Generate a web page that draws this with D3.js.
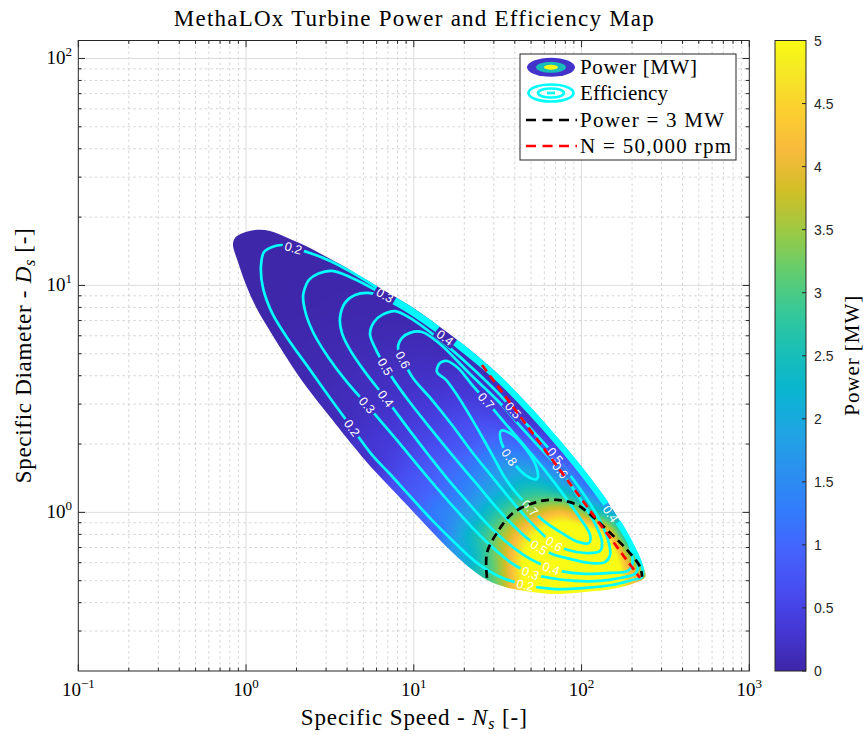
<!DOCTYPE html>
<html>
<head>
<meta charset="utf-8">
<title>MethaLOx Turbine Power and Efficiency Map</title>
<script src="https://cdn.jsdelivr.net/npm/d3@7/dist/d3.min.js"></script>
<style>
  html, body { margin: 0; padding: 0; background: #fff; }
  svg { display: block; }
</style>
</head>
<body>
<svg id="chart" width="866" height="735" xmlns="http://www.w3.org/2000/svg"></svg>
<script>
// ---------------- data ----------------
const nsLimits = [0.1, 1000];
const dsLimits = [0.2, 120];
const nsDecades = [-1, 0, 1, 2, 3];
const dsDecades = [0, 1, 2];
const powerLimits = [0, 5];
const powerTicks = [0, 0.5, 1, 1.5, 2, 2.5, 3, 3.5, 4, 4.5, 5];
const effLevels = [0.2, 0.3, 0.4, 0.5, 0.6, 0.7, 0.8];

// Efficiency iso-lines, points as [log10 Ns, log10 Ds]
const eff02 = [[0.107,1.147],[0.155,1.169],[0.214,1.178],[0.280,1.165],[0.381,1.143],[0.501,1.108],[0.620,1.062],[0.799,0.982],[0.977,0.903],[1.156,0.810],[1.335,0.709],[1.514,0.594],[1.693,0.458],[1.872,0.308],[2.051,0.145],[2.200,-0.009],[2.307,-0.146],[2.361,-0.241],[2.361,-0.285],[2.301,-0.298],[2.182,-0.320],[2.021,-0.333],[1.842,-0.338],[1.663,-0.320],[1.502,-0.280],[1.371,-0.219],[1.252,-0.139],[1.109,-0.034],[0.977,0.072],[0.858,0.169],[0.751,0.253],[0.632,0.372],[0.501,0.504],[0.369,0.641],[0.250,0.764],[0.155,0.879],[0.101,0.989],[0.089,1.086]];
const eff03 = [[0.351,0.989],[0.375,1.024],[0.429,1.051],[0.512,1.064],[0.632,1.033],[0.799,0.969],[0.977,0.891],[1.156,0.798],[1.335,0.697],[1.514,0.583],[1.693,0.446],[1.872,0.296],[2.051,0.132],[2.200,-0.023],[2.307,-0.159],[2.337,-0.236],[2.319,-0.271],[2.230,-0.289],[2.110,-0.302],[1.961,-0.302],[1.812,-0.289],[1.693,-0.267],[1.574,-0.219],[1.454,-0.144],[1.335,-0.056],[1.216,0.041],[1.067,0.169],[0.888,0.328],[0.721,0.473],[0.596,0.579],[0.489,0.685],[0.405,0.786],[0.357,0.874],[0.340,0.954]];
const eff04 = [[0.560,0.857],[0.590,0.923],[0.650,0.958],[0.727,0.967],[0.799,0.954],[0.888,0.918],[0.977,0.879],[1.156,0.787],[1.335,0.685],[1.514,0.571],[1.693,0.434],[1.872,0.284],[2.051,0.119],[2.200,-0.036],[2.289,-0.148],[2.301,-0.232],[2.277,-0.258],[2.170,-0.267],[2.021,-0.271],[1.872,-0.258],[1.782,-0.236],[1.693,-0.205],[1.574,-0.144],[1.454,-0.064],[1.335,0.033],[1.216,0.134],[1.097,0.244],[0.977,0.359],[0.840,0.495],[0.709,0.619],[0.620,0.716],[0.572,0.790]];
const eff05 = [[0.739,0.786],[0.763,0.839],[0.811,0.870],[0.888,0.887],[0.977,0.857],[1.156,0.760],[1.335,0.645],[1.514,0.517],[1.592,0.451],[1.693,0.372],[1.848,0.244],[1.991,0.103],[2.098,-0.020],[2.158,-0.122],[2.170,-0.188],[2.140,-0.219],[2.051,-0.223],[1.932,-0.205],[1.824,-0.183],[1.735,-0.148],[1.621,-0.078],[1.496,0.019],[1.365,0.134],[1.228,0.253],[1.097,0.372],[0.966,0.495],[0.888,0.575],[0.828,0.645],[0.775,0.716]];
const eff06 = [[0.906,0.724],[0.930,0.769],[0.977,0.791],[1.049,0.795],[1.156,0.742],[1.335,0.610],[1.514,0.482],[1.633,0.381],[1.753,0.284],[1.872,0.187],[1.979,0.072],[2.075,-0.042],[2.122,-0.130],[2.110,-0.170],[2.021,-0.179],[1.919,-0.166],[1.830,-0.135],[1.723,-0.064],[1.604,0.033],[1.472,0.152],[1.347,0.266],[1.228,0.385],[1.109,0.495],[0.995,0.592],[0.942,0.663]];
const eff07 = [[1.138,0.619],[1.156,0.658],[1.198,0.667],[1.264,0.636],[1.347,0.562],[1.437,0.487],[1.532,0.403],[1.645,0.306],[1.770,0.196],[1.889,0.081],[1.991,-0.025],[2.051,-0.100],[2.045,-0.135],[1.979,-0.130],[1.872,-0.086],[1.782,-0.042],[1.693,0.019],[1.615,0.081],[1.544,0.151],[1.484,0.231],[1.418,0.319],[1.335,0.425],[1.258,0.517],[1.192,0.584]];
const eff08 = [[1.734,0.147],[1.733,0.195],[1.670,0.277],[1.582,0.345],[1.520,0.359],[1.521,0.311],[1.584,0.229],[1.672,0.161]];
const effContours = [eff02, eff03, eff04, eff05, eff06, eff07, eff08];

// Inline contour labels: [level, log10 Ns, log10 Ds]
const effLabels = [
  [0.2,0.280,1.165],[0.3,0.828,0.954],[0.4,1.174,0.760],[0.6,0.936,0.672],[0.5,0.840,0.645],
  [0.4,0.840,0.504],[0.3,0.721,0.473],[0.2,0.632,0.372],[0.7,1.437,0.495],[0.5,1.592,0.447],
  [0.8,1.562,0.240],[0.5,1.848,0.253],[0.6,1.872,0.187],[0.7,1.693,0.019],[0.6,1.830,-0.143],
  [0.5,1.735,-0.166],[0.4,1.812,-0.254],[0.3,1.693,-0.267],[0.2,1.663,-0.320],[0.4,2.140,-0.025]
];

// Edge of the feasible design space, [log10 Ns, log10 Ds]
const mapBoundary = [[-0.078,1.183],[-0.060,1.214],[-0.018,1.231],[0.053,1.244],[0.143,1.240],[0.262,1.205],[0.381,1.165],[0.501,1.117],[0.620,1.068],[0.799,0.989],[0.977,0.910],[1.156,0.817],[1.335,0.716],[1.514,0.601],[1.693,0.465],[1.872,0.315],[2.051,0.152],[2.200,-0.003],[2.307,-0.139],[2.367,-0.236],[2.379,-0.285],[2.301,-0.316],[2.182,-0.338],[2.021,-0.351],[1.842,-0.360],[1.663,-0.346],[1.544,-0.329],[1.437,-0.298],[1.335,-0.245],[1.234,-0.179],[1.138,-0.108],[1.037,-0.029],[0.948,0.041],[0.840,0.125],[0.739,0.204],[0.638,0.293],[0.501,0.420],[0.411,0.504],[0.322,0.592],[0.220,0.707],[0.131,0.813],[0.059,0.905],[0.000,1.002],[-0.048,1.103]];

// Power = 3 MW iso-line, [log10 Ns, log10 Ds]
const power3MW = [[1.436,-0.289],[1.436,-0.179],[1.496,-0.090],[1.591,-0.003],[1.734,0.046],[1.854,0.055],[1.973,0.033],[2.068,-0.020],[2.170,-0.090],[2.271,-0.165],[2.349,-0.240],[2.361,-0.284]];

// Constant shaft speed line N = 50,000 rpm
const speedLineNs = [25.5, 223];
const speedLineDs = [4.46, 0.514];

// Turbine power [MW] sampled on a log10 Ns / log10 Ds grid (rows follow gridLgDs)
const gridLgNs = [-0.1, 0.1, 0.3, 0.5, 0.7, 0.9, 1.1, 1.3, 1.5, 1.7, 1.9, 2.1, 2.3, 2.5];
const gridLgDs = [-0.4, -0.3, -0.2, -0.1, 0.0, 0.1, 0.2, 0.3, 0.4, 0.5, 0.6, 0.7, 0.8, 0.9, 1.0, 1.1, 1.2, 1.3];
const powerMW = [
  [0,0,0,0,0,0.3,1.0,2.0,3.3,4.8,5.2,5.2,4.0,3.0],
  [0,0,0,0,0,0.5,1.2,2.2,3.3,5.4,6.2,6.4,4.3,3.0],
  [0,0,0,0,0.3,0.8,1.4,2.0,3.4,5.4,6.8,7.0,3.4,2.5],
  [0,0,0,0.1,0.4,0.7,0.9,2.1,3.3,4.8,6.0,5.3,2.0,1.5],
  [0,0,0,0.1,0.3,0.54,1.2,1.7,2.7,3.6,4.1,2.6,1.5,1.0],
  [0,0,0,0.1,0.3,0.68,0.95,1.36,1.98,2.6,2.2,1.0,0.8,0.6],
  [0,0,0.05,0.1,0.2,0.54,0.82,1.14,1.63,1.74,1.08,0.5,0.4,0.3],
  [0,0,0.05,0.1,0.27,0.41,0.61,0.79,1.09,0.92,0.27,0.2,0.2,0.2],
  [0,0,0.05,0.09,0.21,0.33,0.45,0.62,0.6,0.3,0.1,0.1,0.1,0.1],
  [0,0,0.05,0.11,0.16,0.24,0.32,0.39,0.32,0.1,0.1,0.1,0.1,0.1],
  [0,0.02,0.05,0.085,0.14,0.19,0.22,0.24,0.1,0.1,0.1,0.1,0.1,0.1],
  [0,0.02,0.043,0.065,0.1,0.13,0.14,0.09,0.05,0.05,0.05,0.05,0.05,0.05],
  [0.01,0.014,0.034,0.048,0.06,0.075,0.07,0.04,0.03,0.03,0.03,0.03,0.03,0.03],
  [0.01,0.01,0.02,0.03,0.04,0.04,0.03,0.02,0.02,0.02,0.02,0.02,0.02,0.02],
  [0.01,0.01,0.015,0.02,0.02,0.02,0.02,0.01,0.01,0.01,0.01,0.01,0.01,0.01],
  [0.01,0.01,0.01,0.01,0.01,0.01,0.01,0.01,0.01,0.01,0.01,0.01,0.01,0.01],
  [0.01,0.01,0.01,0.01,0.01,0.01,0.01,0.01,0.01,0.01,0.01,0.01,0.01,0.01],
  [0.01,0.01,0.01,0.01,0.01,0.01,0.01,0.01,0.01,0.01,0.01,0.01,0.01,0.01]
];

const legendItems = ["Power [MW]", "Efficiency", "Power = 3 MW", "N = 50,000 rpm"];

// ---------------- layout ----------------
const W = 866, H = 735;
const M = { left: 78.3, right: 749.3, top: 40.5, bottom: 671 };
const CB = { x: 775, w: 31 };
const SERIF = "'Liberation Serif', 'Times New Roman', Times, serif";
const SANS = "'Liberation Sans', Arial, Helvetica, sans-serif";
const svg = d3.select('#chart');
const defs = svg.append('defs');

const x = d3.scaleLog().domain(nsLimits).range([M.left, M.right]);
const y = d3.scaleLog().domain(dsLimits).range([M.bottom, M.top]);
const pt = d => [x(10 ** d[0]), y(10 ** d[1])];

// parula colour map
const parulaRGB = [[62,38,168],[69,55,213],[72,77,240],[69,99,253],[50,124,252],[43,145,239],[32,165,227],[8,181,208],[25,191,182],[55,200,151],[100,205,111],[157,201,67],[209,191,39],[248,186,61],[252,207,48],[245,233,36],[249,251,21]];
const parulaPos = [0,4,8,12,16,20,24,28,32,36,40,44,48,52,56,60,63].map(i => i / 63);
const parula = d3.scaleLinear().domain(parulaPos).range(parulaRGB.map(c => `rgb(${c})`))
  .interpolate(d3.interpolateRgb).clamp(true);
const powerColor = d3.scaleLinear().domain(powerLimits).range([0, 1]).clamp(true);

// ---------------- grid ----------------
const decadeMinors = (lo, hi) => d3.range(lo, hi).flatMap(e => d3.range(2, 10).map(m => m * 10 ** e));
const nsMinor = decadeMinors(-1, 3);
const dsMinor = decadeMinors(-1, 3).filter(v => v > dsLimits[0] * 1.0001 && v < dsLimits[1]);
const nsMajor = nsDecades.map(e => 10 ** e);
const dsMajor = dsDecades.map(e => 10 ** e);

const grid = svg.append('g');
grid.selectAll('.gx').data(nsMinor).join('line')
  .attr('x1', d => x(d)).attr('x2', d => x(d)).attr('y1', M.top).attr('y2', M.bottom)
  .attr('stroke', '#c9c9c9').attr('stroke-width', 0.8).attr('stroke-dasharray', '2.5,3');
grid.selectAll('.gy').data(dsMinor).join('line')
  .attr('y1', d => y(d)).attr('y2', d => y(d)).attr('x1', M.left).attr('x2', M.right)
  .attr('stroke', '#c9c9c9').attr('stroke-width', 0.8).attr('stroke-dasharray', '2.5,3');
grid.selectAll('.gX').data(nsMajor.slice(1, -1)).join('line')
  .attr('x1', d => x(d)).attr('x2', d => x(d)).attr('y1', M.top).attr('y2', M.bottom)
  .attr('stroke', '#dcdcdc').attr('stroke-width', 1);
grid.selectAll('.gY').data(dsMajor).join('line')
  .attr('y1', d => y(d)).attr('y2', d => y(d)).attr('x1', M.left).attr('x2', M.right)
  .attr('stroke', '#dcdcdc').attr('stroke-width', 1);

// ---------------- power surface ----------------
const lutN = 512;
const lut = d3.range(lutN).map(i => d3.rgb(parula(i / (lutN - 1))));
function cr(p0, p1, p2, p3, t) {
  return 0.5 * (2 * p1 + (-p0 + p2) * t + (2 * p0 - 5 * p1 + 4 * p2 - p3) * t * t + (-p0 + 3 * p1 - 3 * p2 + p3) * t * t * t);
}
const nu = gridLgNs.length, nv = gridLgDs.length;
const du = gridLgNs[1] - gridLgNs[0], dv = gridLgDs[1] - gridLgDs[0];
const P = (r, c) => powerMW[Math.max(0, Math.min(nv - 1, r))][Math.max(0, Math.min(nu - 1, c))];
function samplePower(u, v) {
  const fu = (u - gridLgNs[0]) / du, fv = (v - gridLgDs[0]) / dv;
  const c = Math.floor(fu), r = Math.floor(fv);
  const tu = fu - c, tv = fv - r;
  const rows = [-1, 0, 1, 2].map(k => cr(P(r + k, c - 1), P(r + k, c), P(r + k, c + 1), P(r + k, c + 2), tu));
  return Math.max(0, cr(rows[0], rows[1], rows[2], rows[3], tv));
}
const pw = Math.round(M.right - M.left), ph = Math.round(M.bottom - M.top);
const cvs = document.createElement('canvas');
cvs.width = pw; cvs.height = ph;
const ctx = cvs.getContext('2d');
const img = ctx.createImageData(pw, ph);
for (let j = 0; j < ph; j++) {
  const v = Math.log10(y.invert(M.top + j + 0.5));
  for (let i = 0; i < pw; i++) {
    const u = Math.log10(x.invert(M.left + i + 0.5));
    const k = Math.round(powerColor(samplePower(u, v)) * (lutN - 1));
    const c = lut[k], o = (j * pw + i) * 4;
    img.data[o] = c.r; img.data[o + 1] = c.g; img.data[o + 2] = c.b; img.data[o + 3] = 255;
  }
}
ctx.putImageData(img, 0, 0);

const closedCurve = d3.line().curve(d3.curveCatmullRomClosed.alpha(0.5));
const openCurve = d3.line().curve(d3.curveCatmullRom.alpha(0.5));
defs.append('clipPath').attr('id', 'mapClip')
  .append('path').attr('d', closedCurve(mapBoundary.map(pt)));
svg.append('image')
  .attr('x', M.left).attr('y', M.top).attr('width', pw).attr('height', ph)
  .attr('preserveAspectRatio', 'none')
  .attr('href', cvs.toDataURL())
  .attr('clip-path', 'url(#mapClip)');

// ---------------- efficiency contours ----------------
const contourG = svg.append('g').attr('mask', 'url(#labelGaps)');
const contourPaths = effContours.map(pts => contourG.append('path')
  .attr('d', closedCurve(pts.map(pt)))
  .attr('fill', 'none').attr('stroke', '#00ffff').attr('stroke-width', 2.7)
  .attr('stroke-linejoin', 'round').node());

function labelPlacement(node, px, py) {
  const L = node.getTotalLength();
  let best = 0, bd = Infinity;
  for (let s = 0; s <= L; s += 1) {
    const p = node.getPointAtLength(s);
    const d = (p.x - px) ** 2 + (p.y - py) ** 2;
    if (d < bd) { bd = d; best = s; }
  }
  const a = node.getPointAtLength(Math.max(0, best - 6));
  const b = node.getPointAtLength(Math.min(L, best + 6));
  let ang = Math.atan2(b.y - a.y, b.x - a.x) * 180 / Math.PI;
  if (ang > 90) ang -= 180;
  if (ang < -90) ang += 180;
  const p = node.getPointAtLength(best);
  return { x: p.x, y: p.y, angle: ang };
}
const placed = effLabels.map(([lev, lu, lv]) => {
  const [px, py] = pt([lu, lv]);
  const node = contourPaths[effLevels.indexOf(lev)];
  return Object.assign({ level: lev }, labelPlacement(node, px, py));
});

const mask = defs.append('mask').attr('id', 'labelGaps')
  .attr('maskUnits', 'userSpaceOnUse').attr('x', 0).attr('y', 0).attr('width', W).attr('height', H);
mask.append('rect').attr('width', W).attr('height', H).attr('fill', '#fff');
mask.selectAll('rect.gap').data(placed).join('rect')
  .attr('x', -11).attr('y', -6).attr('width', 22).attr('height', 12).attr('fill', '#000')
  .attr('transform', d => `translate(${d.x},${d.y}) rotate(${d.angle})`);

svg.append('g').selectAll('text').data(placed).join('text')
  .attr('font-family', SANS)
  .attr('transform', d => `translate(${d.x},${d.y}) rotate(${d.angle})`)
  .attr('text-anchor', 'middle').attr('dy', '0.36em')
  .attr('font-size', 12.5).attr('fill', '#fff')
  .text(d => d.level.toFixed(1));

// ---------------- iso-power and speed lines ----------------
svg.append('path').attr('d', openCurve(power3MW.map(pt)))
  .attr('fill', 'none').attr('stroke', '#000').attr('stroke-width', 2.7)
  .attr('stroke-dasharray', '8,5');
svg.append('path').attr('d', d3.line()(speedLineNs.map((n, i) => [x(n), y(speedLineDs[i])])))
  .attr('fill', 'none').attr('stroke', '#ff0000').attr('stroke-width', 2.7)
  .attr('stroke-dasharray', '8,5');

// ---------------- axes box and ticks ----------------
const axisCol = '#262626';
const axes = svg.append('g').attr('stroke', axisCol).attr('stroke-width', 1);
const tMaj = 6.7, tMin = 3.4;
nsMajor.forEach(v => {
  axes.append('line').attr('x1', x(v)).attr('x2', x(v)).attr('y1', M.bottom).attr('y2', M.bottom - tMaj);
  axes.append('line').attr('x1', x(v)).attr('x2', x(v)).attr('y1', M.top).attr('y2', M.top + tMaj);
});
nsMinor.forEach(v => {
  axes.append('line').attr('x1', x(v)).attr('x2', x(v)).attr('y1', M.bottom).attr('y2', M.bottom - tMin);
  axes.append('line').attr('x1', x(v)).attr('x2', x(v)).attr('y1', M.top).attr('y2', M.top + tMin);
});
dsMajor.forEach(v => {
  axes.append('line').attr('y1', y(v)).attr('y2', y(v)).attr('x1', M.left).attr('x2', M.left + tMaj);
  axes.append('line').attr('y1', y(v)).attr('y2', y(v)).attr('x1', M.right).attr('x2', M.right - tMaj);
});
dsMinor.forEach(v => {
  axes.append('line').attr('y1', y(v)).attr('y2', y(v)).attr('x1', M.left).attr('x2', M.left + tMin);
  axes.append('line').attr('y1', y(v)).attr('y2', y(v)).attr('x1', M.right).attr('x2', M.right - tMin);
});
axes.append('rect').attr('x', M.left).attr('y', M.top)
  .attr('width', M.right - M.left).attr('height', M.bottom - M.top).attr('fill', 'none');

// tick labels
function powLabel(sel, e) {
  sel.append('tspan').text('10');
  sel.append('tspan').attr('font-size', 13).attr('dy', -8).text(e < 0 ? '\u2212' + (-e) : String(e));
}
nsDecades.forEach(e => {
  const t = svg.append('text').attr('font-family', SERIF).attr('font-size', 19)
    .attr('x', x(10 ** e)).attr('y', 696).attr('text-anchor', 'middle');
  powLabel(t, e);
});
dsDecades.forEach(e => {
  const t = svg.append('text').attr('font-family', SERIF).attr('font-size', 19)
    .attr('x', 72).attr('y', y(10 ** e) + 6).attr('text-anchor', 'end');
  powLabel(t, e);
});

// titles
svg.append('text').attr('font-family', SERIF).attr('font-size', 23)
  .attr('x', (M.left + M.right) / 2).attr('y', 26).attr('text-anchor', 'middle')
  .attr('textLength', 480).attr('lengthAdjust', 'spacing')
  .text('MethaLOx Turbine Power and Efficiency Map');

const xl = svg.append('text').attr('font-family', SERIF).attr('font-size', 23)
  .attr('x', (M.left + M.right) / 2).attr('y', 725).attr('text-anchor', 'middle')
  .attr('textLength', 226).attr('lengthAdjust', 'spacing');
xl.append('tspan').text('Specific Speed - ');
xl.append('tspan').attr('font-style', 'italic').text('N');
xl.append('tspan').attr('font-style', 'italic').attr('font-size', 16).attr('dy', 4).text('s');
xl.append('tspan').attr('dy', -4).text(' [-]');

const yl = svg.append('text').attr('font-family', SERIF).attr('font-size', 23)
  .attr('transform', `translate(31,${(M.top + M.bottom) / 2}) rotate(-90)`)
  .attr('text-anchor', 'middle')
  .attr('textLength', 255).attr('lengthAdjust', 'spacing');
yl.append('tspan').text('Specific Diameter - ');
yl.append('tspan').attr('font-style', 'italic').text('D');
yl.append('tspan').attr('font-style', 'italic').attr('font-size', 16).attr('dy', 4).text('s');
yl.append('tspan').attr('dy', -4).text(' [-]');

// ---------------- colour bar ----------------
const cbScale = d3.scaleLinear().domain(powerLimits).range([M.bottom, M.top]);
const grad = defs.append('linearGradient').attr('id', 'cbGrad')
  .attr('x1', 0).attr('y1', 1).attr('x2', 0).attr('y2', 0);
d3.range(65).forEach(i => grad.append('stop')
  .attr('offset', i / 64).attr('stop-color', parula(i / 64)));
svg.append('rect').attr('x', CB.x).attr('y', M.top).attr('width', CB.w)
  .attr('height', M.bottom - M.top).attr('fill', 'url(#cbGrad)')
  .attr('stroke', axisCol).attr('stroke-width', 1);
powerTicks.forEach(t => {
  svg.append('line').attr('x1', CB.x + CB.w).attr('x2', CB.x + CB.w - 4)
    .attr('y1', cbScale(t)).attr('y2', cbScale(t)).attr('stroke', axisCol);
  svg.append('text').attr('font-family', SANS).attr('font-size', 14).attr('fill', '#262626')
    .attr('x', CB.x + CB.w + 8).attr('y', cbScale(t) + 5).text(String(t));
});
svg.append('text').attr('font-family', SERIF).attr('font-size', 21)
  .attr('transform', `translate(859,${(M.top + M.bottom) / 2}) rotate(-90)`)
  .attr('text-anchor', 'middle').attr('textLength', 120).attr('lengthAdjust', 'spacing')
  .text('Power [MW]');

// ---------------- legend ----------------
const LG = { x: 520, y: 54, w: 216, h: 106, rows: [67.3, 93, 120, 146], icon: 551, text: 580 };
const lgG = svg.append('g');
lgG.append('rect').attr('x', LG.x).attr('y', LG.y).attr('width', LG.w).attr('height', LG.h)
  .attr('fill', '#fff').attr('stroke', axisCol).attr('stroke-width', 1);
[[24, 9.5, 0.05], [15, 5.5, 0.5], [7, 2.5, 1]].forEach(([rx, ry, f]) =>
  lgG.append('ellipse').attr('cx', LG.icon).attr('cy', LG.rows[0]).attr('rx', rx).attr('ry', ry)
    .attr('fill', parula(f)));
[[22.5, 8.5], [13, 4.5]].forEach(([rx, ry]) =>
  lgG.append('ellipse').attr('cx', LG.icon).attr('cy', LG.rows[1]).attr('rx', rx).attr('ry', ry)
    .attr('fill', 'none').attr('stroke', '#00ffff').attr('stroke-width', 2.7));
lgG.append('line').attr('x1', LG.icon - 4).attr('x2', LG.icon + 4).attr('y1', LG.rows[1]).attr('y2', LG.rows[1])
  .attr('stroke', '#00ffff').attr('stroke-width', 2.7);
[['#000', 2], ['#ff0000', 3]].forEach(([c, r]) =>
  lgG.append('line').attr('x1', 526).attr('x2', 577).attr('y1', LG.rows[r]).attr('y2', LG.rows[r])
    .attr('stroke', c).attr('stroke-width', 2.7).attr('stroke-dasharray', '10,6.5'));
const lgWidths = [117, 88, 144, 151];
legendItems.forEach((s, i) => lgG.append('text').attr('font-family', SERIF).attr('font-size', 21)
  .attr('x', LG.text).attr('y', LG.rows[i] + 7)
  .attr('textLength', lgWidths[i]).attr('lengthAdjust', 'spacing').text(s));
</script>
</body>
</html>
